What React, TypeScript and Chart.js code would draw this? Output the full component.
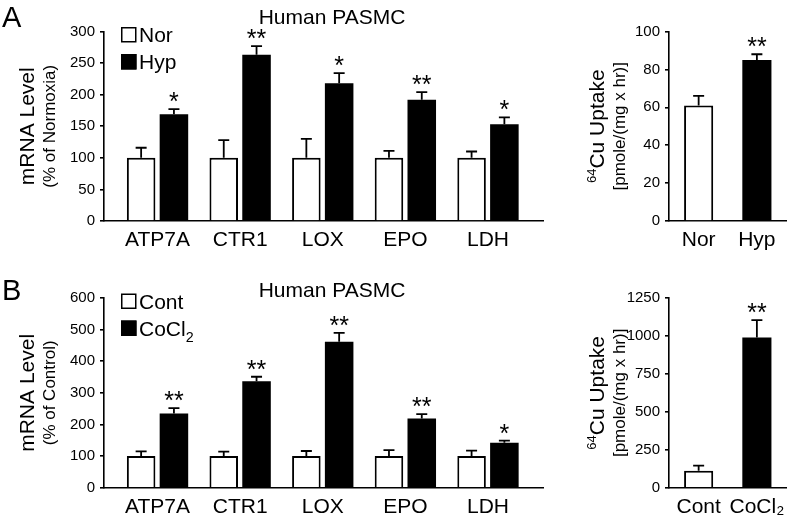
import React, { useEffect, useRef } from 'react';
import { Chart, registerables } from 'chart.js';

Chart.register(...registerables);

const FONT = '"Liberation Sans", Arial, Helvetica, sans-serif';
Chart.defaults.font.family = FONT;
Chart.defaults.color = '#000';

// ---------- Panel A: hypoxia ----------
const genes = ['ATP7A', 'CTR1', 'LOX', 'EPO', 'LDH'];
const norLabel = 'Nor';
const norMean = [100, 100, 100, 100, 100];
const norSem = [16, 28, 30, 11, 10];
const hypLabel = 'Hyp';
const hypMean = [169, 263, 218, 192, 153];
const hypSem = [8, 14, 16, 12, 11];
const hypSig = ['*', '**', '*', '**', '*'];
const mrnaAMax = 300;
const mrnaAStep = 50;

const uptakeALabels = ['Nor', 'Hyp'];
const uptakeAMean = [61, 85];
const uptakeASem = [5, 3];
const uptakeASig = ['', '**'];
const uptakeAMax = 100;
const uptakeAStep = 20;

// ---------- Panel B: CoCl2 ----------
const contLabel = 'Cont';
const contMean = [100, 100, 100, 100, 100];
const contSem = [15, 14, 16, 19, 17];
const cocl2Label = 'CoCl₂';
const cocl2Mean = [235, 337, 462, 219, 142];
const cocl2Sem = [17, 14, 28, 14, 7];
const cocl2Sig = ['**', '**', '**', '**', '*'];
const mrnaBMax = 600;
const mrnaBStep = 100;

const uptakeBLabels = ['Cont', 'CoCl₂'];
const uptakeBMean = [112, 990];
const uptakeBSem = [33, 114];
const uptakeBSig = ['', '**'];
const uptakeBMax = 1250;
const uptakeBStep = 250;

const panelTitle = 'Human PASMC';

type Part = { t: string; size: number; dy?: number };

function toParts(label: string, size: number): Part[] {
  const parts: Part[] = [];
  const sub: Record<string, string> = { '₂': '2' };
  const sup: Record<string, string> = { '⁶': '6', '⁴': '4' };
  let buf = '';
  let mode = 0;
  const flush = () => {
    if (!buf) return;
    if (mode === 0) parts.push({ t: buf, size });
    else if (mode === 1) parts.push({ t: buf, size: size * 0.68, dy: size * 0.3 });
    else parts.push({ t: buf, size: size * 0.62, dy: -size * 0.38 });
    buf = '';
  };
  for (const ch of label) {
    const m = sub[ch] ? 1 : sup[ch] ? 2 : 0;
    if (m !== mode) { flush(); mode = m; }
    buf += sub[ch] || sup[ch] || ch;
  }
  flush();
  return parts;
}

function drawRich(ctx: CanvasRenderingContext2D, parts: Part[], x: number, y: number, rot: number, align: 'left' | 'center') {
  ctx.save();
  ctx.translate(x, y);
  if (rot) ctx.rotate(rot);
  ctx.textBaseline = 'alphabetic';
  ctx.textAlign = 'left';
  ctx.fillStyle = '#000';
  let w = 0;
  for (const p of parts) {
    ctx.font = `${p.size}px ${FONT}`;
    w += ctx.measureText(p.t).width;
  }
  let cx = align === 'center' ? -w / 2 : 0;
  for (const p of parts) {
    ctx.font = `${p.size}px ${FONT}`;
    ctx.fillText(p.t, cx, p.dy || 0);
    cx += ctx.measureText(p.t).width;
  }
  ctx.restore();
}

type Extra = (ctx: CanvasRenderingContext2D, chart: any) => void;

function extrasPlugin(extra: Extra) {
  return {
    id: 'extras',
    afterDatasetsDraw(chart: any) {
      const ctx = chart.ctx as CanvasRenderingContext2D;
      const ys = chart.scales.y;
      chart.data.datasets.forEach((ds: any, di: number) => {
        const meta = chart.getDatasetMeta(di);
        meta.data.forEach((el: any, j: number) => {
          const mean = ds.data[j].y;
          const yTop = ys.getPixelForValue(mean + ds.sem[j]);
          const x = el.x;
          ctx.save();
          ctx.strokeStyle = '#000';
          ctx.lineWidth = 1.8;
          ctx.beginPath();
          ctx.moveTo(x, el.y);
          ctx.lineTo(x, yTop);
          ctx.moveTo(x - 5.5, yTop);
          ctx.lineTo(x + 5.5, yTop);
          ctx.stroke();
          const s = ds.sig && ds.sig[j];
          if (s) {
            ctx.font = `25px ${FONT}`;
            ctx.textAlign = 'center';
            ctx.textBaseline = 'alphabetic';
            ctx.fillStyle = '#000';
            ctx.fillText(s, x, yTop + 1);
          }
          ctx.restore();
        });
      });
    },
    afterDraw(chart: any) {
      extra(chart.ctx, chart);
    },
  };
}

function commonScales(cats: string[], xMin: number, xMax: number, yMax: number, yStep: number) {
  return {
    x: {
      type: 'linear',
      min: xMin,
      max: xMax,
      offset: false,
      z: 1,
      afterBuildTicks: (s: any) => {
        s.ticks = cats.map((_, i) => ({ value: i }));
      },
      afterFit: (s: any) => {
        s.height = 30;
      },
      ticks: {
        autoSkip: false,
        maxRotation: 0,
        minRotation: 0,
        padding: 7,
        color: '#000',
        font: { size: 21, family: FONT },
        callback: (v: number) => cats[v],
      },
      grid: { display: false, drawTicks: false },
      border: { display: true, color: '#000', width: 1.6 },
    },
    y: {
      min: 0,
      max: yMax,
      z: 1,
      afterFit: (s: any) => {
        s.width = 50;
      },
      ticks: {
        stepSize: yStep,
        padding: 5,
        color: '#000',
        font: { size: 15, family: FONT },
        callback: (v: number) => String(v),
      },
      grid: { display: true, drawOnChartArea: false, drawTicks: true, tickLength: 4, color: '#000', lineWidth: 1.6 },
      border: { display: true, color: '#000', width: 1.6 },
    },
  };
}

function baseOptions(pad: any, scales: any) {
  return {
    responsive: false,
    maintainAspectRatio: false,
    animation: false,
    events: [],
    layout: { padding: pad, autoPadding: false },
    plugins: { legend: { display: false }, tooltip: { enabled: false }, title: { display: false } },
    scales,
  };
}

function mrnaConfig(o: any) {
  const cp = 0.794;
  const bp = 0.87;
  return {
    type: 'bar',
    data: {
      datasets: [
        {
          label: o.l1,
          data: o.m1.map((v: number, i: number) => ({ x: i, y: v })),
          sem: o.e1,
          sig: null,
          backgroundColor: '#fff',
          borderColor: '#000',
          borderWidth: 2,
          categoryPercentage: cp,
          barPercentage: bp,
        },
        {
          label: o.l2,
          data: o.m2.map((v: number, i: number) => ({ x: i, y: v })),
          sem: o.e2,
          sig: o.g2,
          backgroundColor: '#000',
          borderColor: '#000',
          borderWidth: 0,
          categoryPercentage: cp,
          barPercentage: bp,
        },
      ],
    },
    options: baseOptions(o.pad, commonScales(genes, -0.648, 4.666, o.yMax, o.yStep)),
    plugins: [
      extrasPlugin((ctx, chart) => {
        const ca = chart.chartArea;
        const mid = (ca.top + ca.bottom) / 2;
        drawRich(ctx, [{ t: o.letter, size: 29 }], 2, o.letterY, 0, 'left');
        drawRich(ctx, [{ t: panelTitle, size: 21 }], 332, o.titleY, 0, 'center');
        drawRich(ctx, [{ t: 'mRNA Level', size: 21 }], 34, mid, -Math.PI / 2, 'center');
        drawRich(ctx, [{ t: o.yTitle2, size: 17 }], 55, mid, -Math.PI / 2, 'center');
        chart.data.datasets.forEach((ds: any, i: number) => {
          const by = ca.top - 4.5 + i * 27;
          ctx.save();
          ctx.fillStyle = ds.backgroundColor;
          ctx.fillRect(121, by, 15.5, 15.5);
          ctx.strokeStyle = '#000';
          ctx.lineWidth = 1.5;
          ctx.strokeRect(121.75, by + 0.75, 14, 14);
          ctx.restore();
          drawRich(ctx, toParts(ds.label, 21), 139, by + 15, 0, 'left');
        });
      }),
    ],
  };
}

function uptakeConfig(o: any) {
  return {
    type: 'bar',
    data: {
      datasets: [
        {
          label: 'uptake',
          data: o.mean.map((v: number, i: number) => ({ x: i, y: v })),
          sem: o.sem,
          sig: o.sig,
          backgroundColor: ['#fff', '#000'],
          borderColor: '#000',
          borderWidth: [2, 0],
          categoryPercentage: 1,
          barPercentage: 0.5,
        },
      ],
    },
    options: baseOptions(o.pad, commonScales(o.cats, -0.509, 1.5, o.yMax, o.yStep)),
    plugins: [
      extrasPlugin((ctx, chart) => {
        const ca = chart.chartArea;
        const mid = (ca.top + ca.bottom) / 2;
        drawRich(ctx, toParts('⁶⁴Cu Uptake', 21), 44, mid, -Math.PI / 2, 'center');
        drawRich(ctx, [{ t: '[pmole/(mg x hr)]', size: 17 }], 65, mid, -Math.PI / 2, 'center');
      }),
    ],
  };
}

export default function App() {
  const rA = useRef<HTMLCanvasElement>(null);
  const rA2 = useRef<HTMLCanvasElement>(null);
  const rB = useRef<HTMLCanvasElement>(null);
  const rB2 = useRef<HTMLCanvasElement>(null);

  useEffect(() => {
    const charts: Chart[] = [];
    charts.push(
      new Chart(rA.current as HTMLCanvasElement, mrnaConfig({
        l1: norLabel, m1: norMean, e1: norSem,
        l2: hypLabel, m2: hypMean, e2: hypSem, g2: hypSig,
        yMax: mrnaAMax, yStep: mrnaAStep,
        pad: { left: 54, right: 17, top: 31.5, bottom: 10 },
        letter: 'A', letterY: 27, titleY: 24,
        yTitle2: '(% of Normoxia)',
      }) as any)
    );
    charts.push(
      new Chart(rA2.current as HTMLCanvasElement, uptakeConfig({
        cats: uptakeALabels, mean: uptakeAMean, sem: uptakeASem, sig: uptakeASig,
        yMax: uptakeAMax, yStep: uptakeAStep,
        pad: { left: 59, right: 11, top: 31.5, bottom: 10 },
      }) as any)
    );
    charts.push(
      new Chart(rB.current as HTMLCanvasElement, mrnaConfig({
        l1: contLabel, m1: contMean, e1: contSem,
        l2: cocl2Label, m2: cocl2Mean, e2: cocl2Sem, g2: cocl2Sig,
        yMax: mrnaBMax, yStep: mrnaBStep,
        pad: { left: 54, right: 17, top: 37, bottom: 4.3 },
        letter: 'B', letterY: 39, titleY: 36,
        yTitle2: '(% of Control)',
      }) as any)
    );
    charts.push(
      new Chart(rB2.current as HTMLCanvasElement, uptakeConfig({
        cats: uptakeBLabels, mean: uptakeBMean, sem: uptakeBSem, sig: uptakeBSig,
        yMax: uptakeBMax, yStep: uptakeBStep,
        pad: { left: 59, right: 11, top: 37, bottom: 4.3 },
      }) as any)
    );
    return () => charts.forEach((c) => c.destroy());
  }, []);

  const cs = (l: number, t: number, w: number): React.CSSProperties => ({
    position: 'absolute', left: l, top: t, width: w, height: 261,
  });

  return (
    <div style={{ position: 'absolute', left: 0, top: 0, width: 797, height: 522, background: '#fff', overflow: 'hidden' }}>
      <canvas ref={rA} width={560} height={261} style={cs(0, 0, 560)} />
      <canvas ref={rA2} width={237} height={261} style={cs(560, 0, 237)} />
      <canvas ref={rB} width={560} height={261} style={cs(0, 261, 560)} />
      <canvas ref={rB2} width={237} height={261} style={cs(560, 261, 237)} />
    </div>
  );
}
